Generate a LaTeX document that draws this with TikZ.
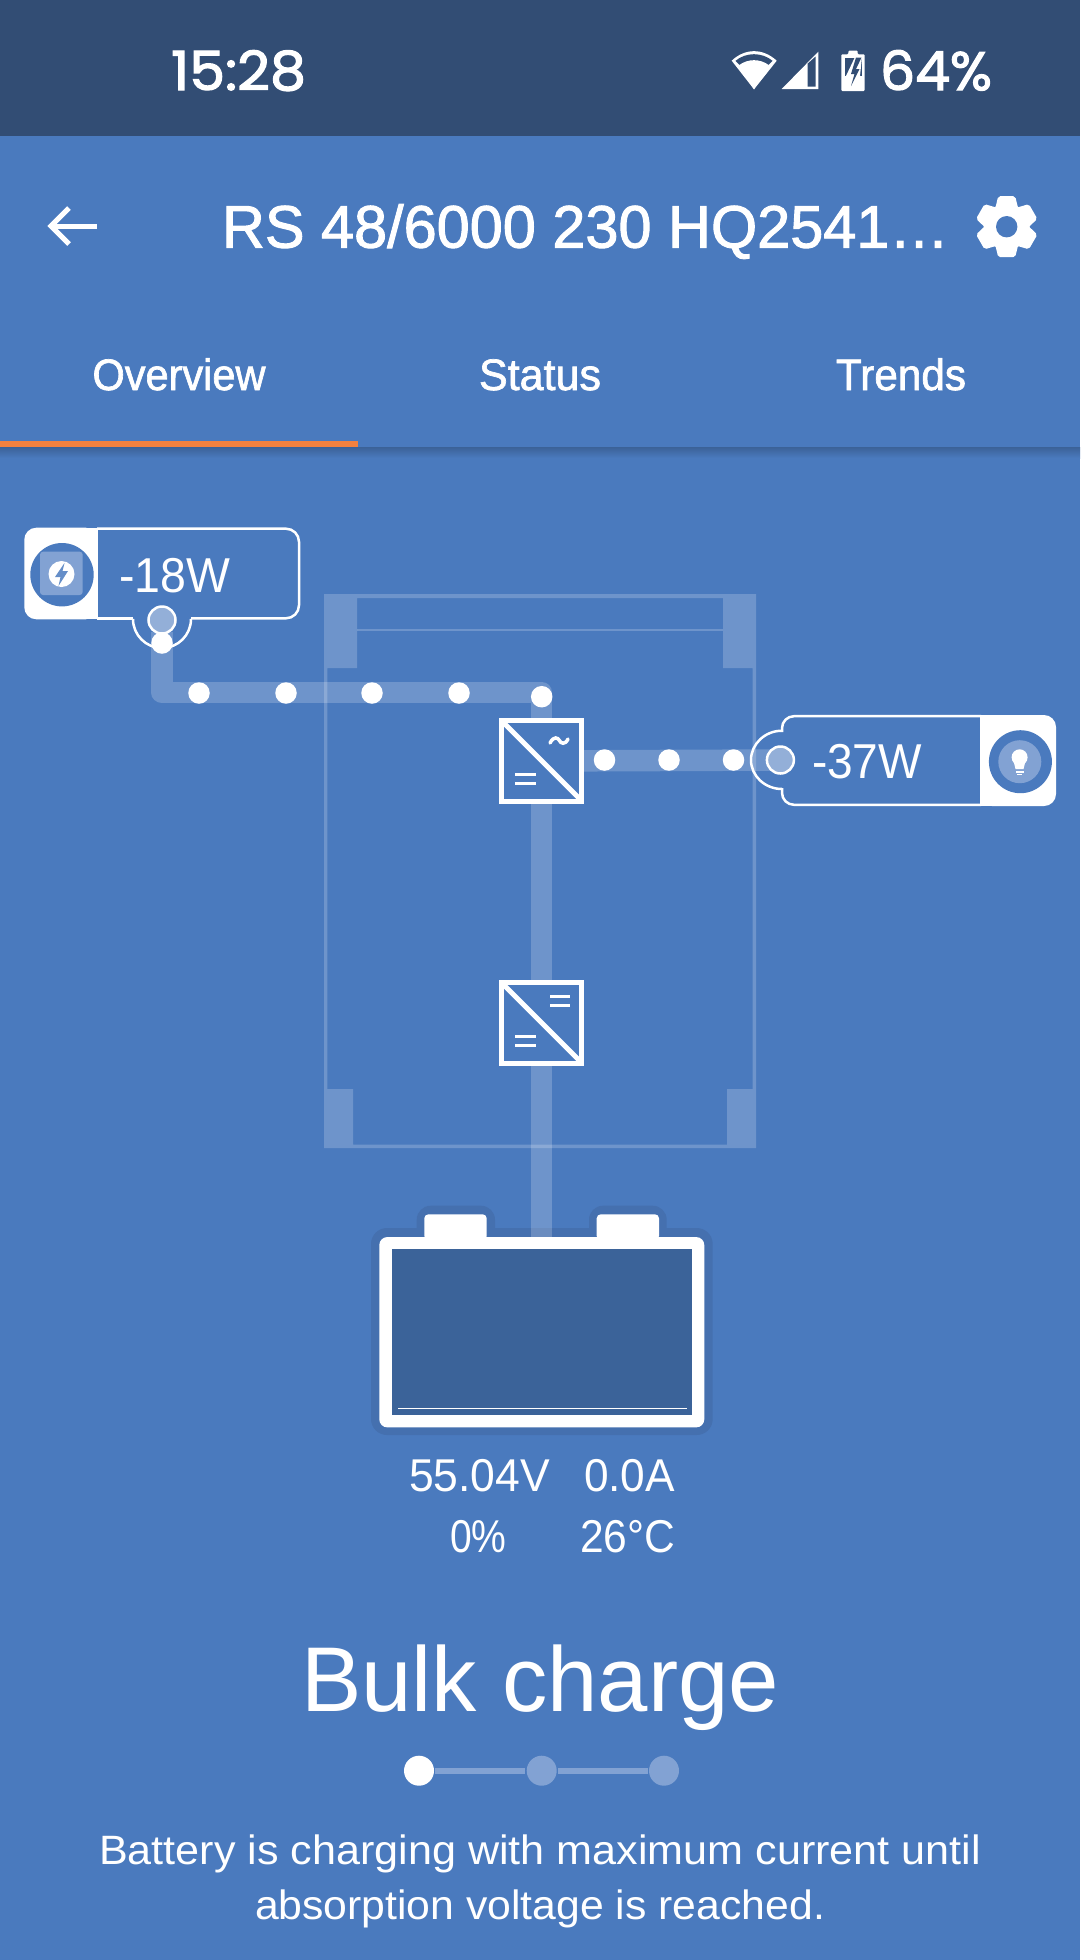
\documentclass[tikz,border=0pt]{standalone}
\usepackage{fontspec}
\usepackage{graphicx}
\setmainfont{Liberation Sans}
\newfontfamily\medf{Liberation Sans}[FakeBold=1.6]
\newfontfamily\lightf{Liberation Sans}
\newfontfamily\statf{Poppins}[FakeBold=2.2]
\definecolor{bg}{HTML}{4A7ABE}
\definecolor{statusbar}{HTML}{324D74}
\definecolor{halo}{HTML}{4570AF}
\definecolor{battdark}{HTML}{3B6399}
\definecolor{soft}{HTML}{82A2D3}
\definecolor{tip}{HTML}{93AFD8}
\definecolor{orangeline}{HTML}{F3813F}
\newcommand\fs[1]{\fontsize{#1}{#1}\selectfont}
\newsavebox\ftbx
\newcommand\fitw[2]{\sbox\ftbx{#2}\pgfmathsetmacro\ftr{#1/\the\wd\ftbx}\scalebox{\ftr}[1]{\usebox\ftbx}}
\tikzset{
  lbl/.style={inner sep=0pt,outer sep=0pt,text=white},
  pipe/.style={line width=21.5pt,draw=white,draw opacity=.2,line cap=butt,line join=round},
  flowdot/.style={circle,fill=white,minimum size=21.5pt,inner sep=0pt,outer sep=0pt},
  tipdot/.style={circle,fill=tip,draw=white,line width=2.5pt,minimum size=27pt,inner sep=0pt,outer sep=0pt},
  conv/.style={rectangle,draw=white,line width=5pt,fill=bg,minimum width=80.5pt,minimum height=80.5pt,inner sep=0pt,outer sep=0pt},
  convln/.style={draw=white,line width=5pt},
  eqln/.style={draw=white,line width=3pt},
  outline/.style={draw=white,line width=2.5pt},
  stepdot/.style={circle,fill=soft,minimum size=30pt,inner sep=0pt,outer sep=1.3pt},
}
\begin{document}
\begin{tikzpicture}[x=1pt,y=-1pt]
\useasboundingbox (0,0) rectangle (1080,1960);
\fill[bg] (0,0) rectangle (1080,1960);
% status bar
\fill[statusbar] (0,0) rectangle (1080,136);
\node[lbl,anchor=base] (clock) at (238.5,90) {\fitw{135}{\statf\fs{54}15:28}};
% wifi
\fill[white] (754,89.3) -- (731.7,60.7) .. controls (745,48) and (763,48) .. (776.7,60.7) -- cycle;
\fill[statusbar] (754,80) -- (735.5,60.8) .. controls (746,52) and (762,52) .. (772.5,60.8) -- cycle;
\fill[white] (754,89.3) -- (739,65.2) .. controls (748,58.5) and (760,58.5) .. (769,65.2) -- cycle;
% signal
\fill[white] (781.7,89) -- (818.3,51.7) -- (818.3,89) -- cycle;
\fill[statusbar] (807.7,63.5) -- (815.6,56.5) -- (815.6,86.5) -- (807.7,86.5) -- cycle;
% battery
\fill[white,rounded corners=1pt] (841.3,54.3) -- (848.3,54.3) -- (848.3,50.7) -- (857.7,50.7) -- (857.7,54.3) -- (864.7,54.3) -- (864.7,91) -- (841.3,91) -- cycle;
\fill[statusbar] (844.5,58) rectangle (861.5,76);
\fill[white] (855,57) -- (846,76) -- (860,76) -- (862,57) -- cycle;
\fill[statusbar] (856,57.5) -- (851,74) -- (854.5,74) -- (851,86) -- (859.5,69) -- (856,69) -- (861.5,57.5) -- cycle;
\node[lbl,anchor=base] (pct) at (936,90) {\fitw{112}{\statf\fs{54}64\%}};
% header
\draw[white,line width=5pt] (97,226) -- (52,226);
\draw[white,line width=5pt,line join=miter] (69,208) -- (51,226) -- (69,244);
\node[lbl,anchor=base west] (title) at (222,247.6) {\fitw{727}{\medf\fs{60}RS 48/6000 230 HQ2541…}};
% gear
\foreach \a in {0,60,120,180,240,300}{
  \fill[white,rounded corners=2pt,shift={(1006.7,226.7)},rotate=\a] (-8.5,-30.5) -- (8.5,-30.5) -- (12,-16) -- (-12,-16) -- cycle;
}
\fill[white] (1006.7,226.7) circle[radius=23];
\fill[bg] (1006.7,226.7) circle[radius=10.7];
% tabs
\node[lbl,anchor=base] (tab1) at (179,390) {\fitw{173}{\medf\fs{44}Overview}};
\node[lbl,anchor=base] (tab2) at (540,390) {\fitw{122}{\medf\fs{44}Status}};
\node[lbl,anchor=base] (tab3) at (901,390) {\fitw{130}{\medf\fs{44}Trends}};
\shade[top color=bg!80!black,bottom color=bg] (0,447) rectangle (1080,458);
\fill[orangeline] (0,441) rectangle (357.7,447);
% frame
\fill[white,opacity=.2,even odd rule] (324,594) rectangle (756,1148)
  (357,598) -- (723,598) -- (723,668) -- (752.7,668) -- (752.7,1089) -- (727,1089) -- (727,1144.5) -- (353,1144.5) -- (353,1089) -- (327.3,1089) -- (327.3,668) -- (357,668) -- cycle;
\fill[white,opacity=.2] (357,629) rectangle (723,631);
% converters
\node[conv] (c1) at (541.7,760.8) {};
\node[conv] (c2) at (541.7,1022.8) {};
\draw[convln] (c1.north west) -- (c1.south east);
\draw[convln] (c2.north west) -- (c2.south east);
\draw[eqln] (515,774.3) -- (535.5,774.3) (515,783.3) -- (535.5,783.3);
\draw[eqln,line width=3.5pt,line cap=round] (550,743) .. controls (554,735.5) and (558,738) .. (559,740) .. controls (561,744) and (565,745) .. (568,739);
\draw[eqln] (550,996) -- (570.3,996) (550,1005) -- (570.3,1005);
\draw[eqln] (515,1036.7) -- (535.5,1036.7) (515,1045.7) -- (535.5,1045.7);
% battery
\fill[halo,rounded corners=16pt] (371,1228) rectangle (712.7,1435);
\fill[halo,rounded corners=14pt] (416.7,1205.7) rectangle (495,1250);
\fill[halo,rounded corners=14pt] (589,1205.7) rectangle (666.7,1250);
\node[rectangle,fill=white,rounded corners=8pt,minimum width=325pt,minimum height=190.3pt,inner sep=0pt,outer sep=0pt] (batt) at (541.8,1332.2) {};
\fill[white,rounded corners=4pt] (424.3,1240) -- (424.3,1214.3) -- (486.7,1214.3) -- (486.7,1240) -- cycle;
\fill[white,rounded corners=4pt] (596.7,1240) -- (596.7,1214.3) -- (659,1214.3) -- (659,1240) -- cycle;
\fill[battdark] (392,1249.3) rectangle (691.7,1415.3);
\draw[white,line width=1.2pt] (398,1408.3) -- (687,1408.3);
% pipes
\coordinate (p1) at (162,632);
\coordinate (p2) at (782,760);
\draw[pipe] (p1) -- (162,692.5) -- (541.7,692.5) -- (c1.north);
\draw[pipe] (c1.east) -- (p2);
\draw[pipe] (c1.south) -- (c2.north);
\draw[pipe] (c2.south) -- (c2.south |- batt.north);
% flow dots
\node[flowdot] (d0) at (162,643) {};
\node[flowdot] (d1) at (199,693) {};
\node[flowdot] (d2) at (286,693) {};
\node[flowdot] (d3) at (372,693) {};
\node[flowdot] (d4) at (459,693) {};
\node[flowdot] (d5) at (541.7,696.7) {};
\node[flowdot] (d6) at (604.5,760) {};
\node[flowdot] (d7) at (669,760) {};
\node[flowdot] (d8) at (733.5,760) {};
% left label
\fill[white,rounded corners=12pt] (97.7,527.7) -- (24.3,527.7) -- (24.3,619.3) -- (97.7,619.3) -- cycle;
\fill[white] (85,527.7) rectangle (97.7,619.3);
\draw[outline,rounded corners=13pt] (97,528.7) -- (299,528.7) -- (299,618.3) -- (191,618.3);
\draw[outline] (133,618.3) -- (97,618.3);
\draw[outline] (133,619) .. controls (133,635) and (146,648) .. (162,648) .. controls (178,648) and (191,635) .. (191,619);
\fill[bg] (62,574.7) circle[radius=31.7];
\fill[soft,rounded corners=3pt] (40,551.7) rectangle (82.7,595);
\fill[white] (61.5,574) circle[radius=13];
\fill[bg!85!white] (64.5,563) -- (55,577) -- (60.5,577) -- (58.5,586) -- (68,571) -- (62.5,571) -- cycle;
\node[lbl,anchor=base west] (lw) at (119,592) {\fitw{111}{\lightf\fs{49}-18W}};
\node[tipdot] (t1) at (162,620) {};
% right label
\fill[white,rounded corners=12pt] (980,715) -- (1056,715) -- (1056,806) -- (980,806) -- cycle;
\fill[white] (980,715) rectangle (995,806);
\draw[outline,rounded corners=12pt] (981,716.2) -- (782,716.2) -- (782,732);
\draw[outline,rounded corners=12pt] (981,804.8) -- (782,804.8) -- (782,788);
\draw[outline] (782,730.7) .. controls (765,730.7) and (751,744) .. (751,760) .. controls (751,776) and (765,789) .. (782,789);
\fill[bg] (1020.4,761.7) circle[radius=31.5];
\fill[soft] (1019.8,761.7) circle[radius=21.5];
\fill[white] (1019.6,757.3) circle[radius=8];
\fill[white] (1013.5,761) -- (1025.5,761) -- (1023.5,769) -- (1015.5,769) -- cycle;
\fill[white] (1015.5,770.5) rectangle (1023.5,772.5);
\fill[white] (1017,773.5) rectangle (1022,775);
\node[lbl,anchor=base west] (rw) at (812,778) {\fitw{110}{\lightf\fs{49}-37W}};
\node[tipdot] (t2) at (780.4,760) {};
% readings
\node[lbl,anchor=base] (r1) at (479.5,1491.5) {\fitw{141}{\lightf\fs{46}55.04V}};
\node[lbl,anchor=base] (r2) at (629.5,1491.5) {\fitw{91}{\lightf\fs{46}0.0A}};
\node[lbl,anchor=base] (r3) at (478.5,1552.7) {\fitw{56.5}{\lightf\fs{46}0\%}};
\node[lbl,anchor=base] (r4) at (627.5,1552.7) {\fitw{95}{\lightf\fs{46}26°C}};
% title state
\node[lbl,anchor=base] (state) at (540,1711) {\fitw{478}{\lightf\fs{92}Bulk charge}};
% stepper
\node[circle,fill=white,minimum size=30pt,inner sep=0pt,outer sep=1pt] (s1) at (419,1770.7) {};
\node[stepdot] (s2) at (541.7,1770.7) {};
\node[stepdot] (s3) at (664,1770.7) {};
\draw[soft,line width=6pt] (s1) -- (s2);
\draw[soft,line width=6pt] (s2) -- (s3);
% description
\node[lbl,anchor=base] (desc1) at (540,1864) {\fitw{882}{\lightf\fs{41}Battery is charging with maximum current until}};
\node[lbl,anchor=base] (desc2) at (540,1919) {\fitw{570}{\lightf\fs{41}absorption voltage is reached.}};
\end{tikzpicture}
\end{document}
